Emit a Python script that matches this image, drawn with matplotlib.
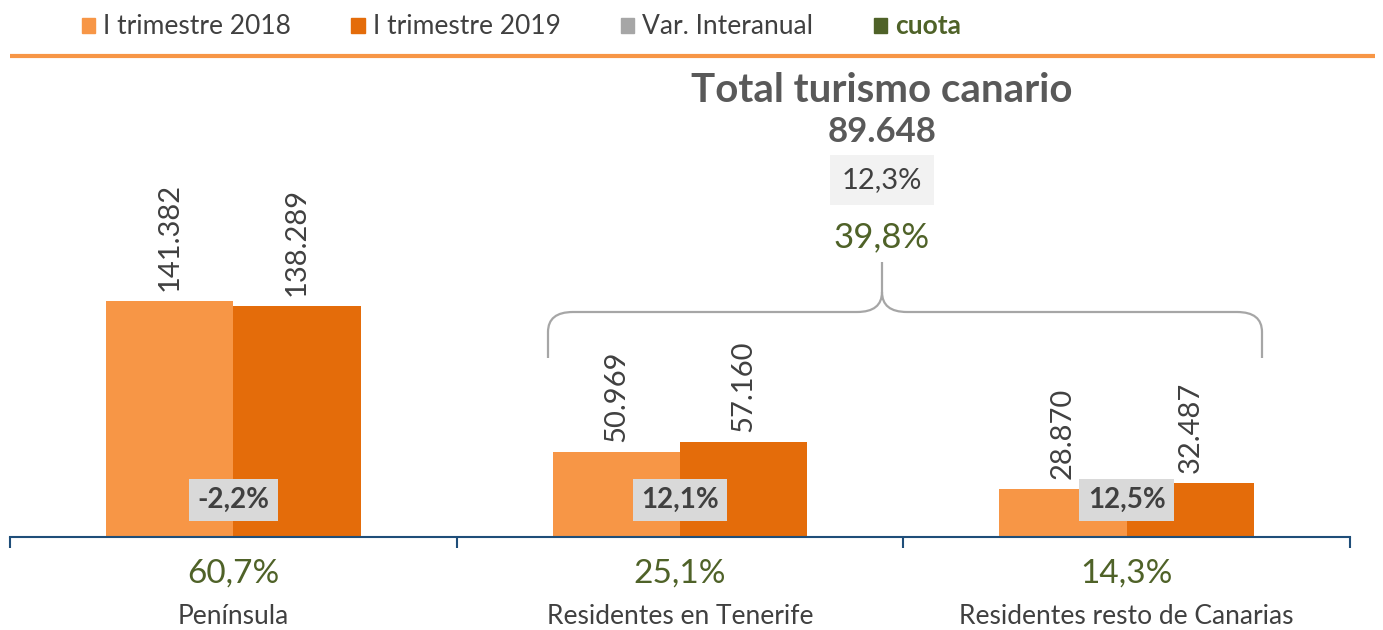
import numpy as np
import matplotlib.pyplot as plt
from matplotlib.patches import Patch, PathPatch
from matplotlib.path import Path

plt.rcParams['font.family'] = ['Lato', 'DejaVu Sans']

# data
categories = ['Península', 'Residentes en Tenerife', 'Residentes resto de Canarias']
q1_2018 = [141382, 50969, 28870]
q1_2019 = [138289, 57160, 32487]
var_labels = ['-2,2%', '12,1%', '12,5%']
cuota_labels = ['60,7%', '25,1%', '14,3%']
total_title = 'Total turismo canario'
total_value = '89.648'
total_var = '12,3%'
total_cuota = '39,8%'
legend_labels = ['I trimestre 2018', 'I trimestre 2019', 'Var. Interanual', 'cuota']

c18 = '#f79646'
c19 = '#e46c0a'
cgray = '#d9d9d9'
cgreen = '#4f6228'
ctext = '#404040'
caxis = '#1f4e79'

W, H = 1383, 630
fig = plt.figure(figsize=(W / 100, H / 100), dpi=100)

# main axes: baseline at y=537 px, spans x 10..1350 px
ax = fig.add_axes([10 / W, 93 / H, 1340 / W, 477 / H])
ax.patch.set_alpha(0)
x = np.arange(len(categories))
bw = 0.285
ax.bar(x - bw / 2, q1_2018, bw, color=c18, zorder=2)
ax.bar(x + bw / 2, q1_2019, bw, color=c19, zorder=2)
ax.set_xlim(-0.5, 2.5)
ax.set_ylim(0, 285800)
for s in ['top', 'left', 'right']:
    ax.spines[s].set_visible(False)
ax.spines['bottom'].set_color(caxis)
ax.spines['bottom'].set_linewidth(1.5)
ax.set_yticks([])
ax.set_xticks([])
ax.set_xticks([-0.5, 0.5, 1.5, 2.5], minor=True)
ax.tick_params(axis='x', which='minor', length=8, width=1.5, color=caxis, direction='out')

# value labels above bars
for xs, vals in [(x - bw / 2, q1_2018), (x + bw / 2, q1_2019)]:
    for xi, v in zip(xs, vals):
        ax.annotate(f'{v:,}'.replace(',', '.'), (xi, v), xytext=(0, 7), textcoords='offset points',
                    rotation=90, ha='center', va='bottom', fontsize=21, color=ctext)

# variation boxes
for xi, lab in zip(x, var_labels):
    ax.text(xi, 22170, lab, ha='center', va='center', fontsize=20, fontweight='bold', color=ctext,
            bbox=dict(boxstyle='square,pad=0.3', fc=cgray, ec='none'), zorder=3)

# cuota and category labels below axis
for xi, cu, cat in zip(x, cuota_labels, categories):
    ax.annotate(cu, (xi, 0), xytext=(0, -26), textcoords='offset points', ha='center', va='center',
                fontsize=24, color=cgreen, annotation_clip=False)
    ax.annotate(cat, (xi, 0), xytext=(0, -57), textcoords='offset points', ha='center', va='center',
                fontsize=19, color=ctext, annotation_clip=False)

# overlay in pixel coordinates for header, brace and total block
ov = fig.add_axes([0, 0, 1, 1], zorder=5)
ov.set_xlim(0, W)
ov.set_ylim(H, 0)
ov.axis('off')

ov.plot([10, 1375], [56, 56], color=c18, lw=3, solid_capstyle='butt')

handles = [Patch(color=c18), Patch(color=c19), Patch(color='#a6a6a6'), Patch(color=cgreen)]
leg = fig.legend(handles, legend_labels, loc='center left', bbox_to_anchor=(58 / W, 1 - 27 / H),
                 ncol=4, frameon=False, fontsize=19, handlelength=0.5, handleheight=0.5,
                 handletextpad=0.3, columnspacing=2.3, labelcolor=ctext)
leg.get_texts()[3].set_color(cgreen)
leg.get_texts()[3].set_fontweight('bold')

cx = 882
ov.text(cx, 91, total_title, ha='center', va='center', fontsize=29, fontweight='bold', color='#595959')
ov.text(cx, 132, total_value, ha='center', va='center', fontsize=25, fontweight='bold', color='#595959')
ov.text(cx, 180, total_var, ha='center', va='center', fontsize=21, color=ctext,
        bbox=dict(boxstyle='square,pad=0.42', fc='#f2f2f2', ec='none'))
ov.text(cx, 237, total_cuota, ha='center', va='center', fontsize=25, color=cgreen)

# curly brace
L, R, yb, yt, ytop = 548, 1262, 358, 312, 262
verts = [(L, yb), (L, yt + 20), (L, yt), (L + 25, yt),
         (cx - 25, yt), (cx, yt), (cx, yt - 20), (cx, ytop),
         (cx, yt - 20), (cx, yt), (cx + 25, yt),
         (R - 25, yt), (R, yt), (R, yt + 20), (R, yb)]
codes = [Path.MOVETO, Path.LINETO, Path.CURVE3, Path.CURVE3,
         Path.LINETO, Path.CURVE3, Path.CURVE3, Path.LINETO,
         Path.MOVETO, Path.CURVE3, Path.CURVE3,
         Path.LINETO, Path.CURVE3, Path.CURVE3, Path.LINETO]
ov.add_patch(PathPatch(Path(verts, codes), fc='none', ec='#a6a6a6', lw=1.6))

fig.savefig('out.png', dpi=100, facecolor='white')
